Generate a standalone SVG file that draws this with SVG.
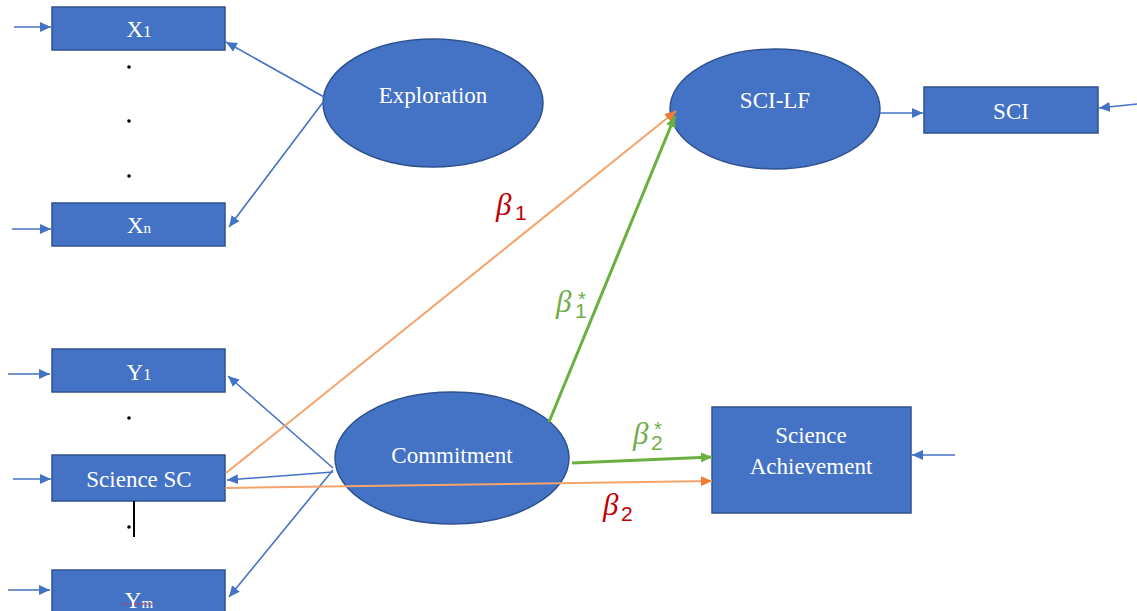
<svg xmlns="http://www.w3.org/2000/svg" width="1137" height="611" viewBox="0 0 1137 611">
<defs>
<style>
.box{fill:#4472C4;stroke:#2F528F;stroke-width:1.5}
.lbl{fill:#fff;font-family:"Liberation Serif","Times New Roman",serif;font-size:23px;text-anchor:middle}
.blue{stroke:#4472C4;stroke-width:1.6;fill:none;marker-end:url(#ab)}
.orange{stroke:#F4A46A;stroke-width:2;fill:none;marker-end:url(#ao)}
.green{stroke:#6AB040;stroke-width:3;fill:none;marker-end:url(#ag)}
.beta{font-family:"Liberation Serif","DejaVu Serif",serif;font-style:italic;font-size:31px}
.sub{font-family:"Liberation Sans","DejaVu Sans",sans-serif;font-size:21px}
.star{font-family:"Liberation Sans","DejaVu Sans",sans-serif;font-size:20px}
.red{fill:#C00000}
.grn{fill:#70AD47}
.dot{fill:#000}
</style>
<marker id="ab" markerUnits="userSpaceOnUse" markerWidth="12" markerHeight="10" refX="11" refY="5" orient="auto"><path d="M0,0 L11,5 L0,10 z" fill="#4472C4"/></marker>
<marker id="ao" markerUnits="userSpaceOnUse" markerWidth="12" markerHeight="10" refX="11" refY="5" orient="auto"><path d="M0,0 L11,5 L0,10 z" fill="#ED7D31"/></marker>
<marker id="ag" markerUnits="userSpaceOnUse" markerWidth="12" markerHeight="10" refX="11" refY="5" orient="auto"><path d="M0,0 L11,5 L0,10 z" fill="#6AB040"/></marker>
</defs>
<rect width="1137" height="611" fill="#fff"/>

<g id="X1"><rect class="box" x="52" y="7" width="173" height="43"/><text class="lbl" x="139" y="37">X<tspan font-size="17">1</tspan></text></g>
<g id="Xn"><rect class="box" x="52" y="203" width="173" height="43"/><text class="lbl" x="139" y="233">X<tspan font-size="15">n</tspan></text></g>
<g id="Y1"><rect class="box" x="52" y="349" width="173" height="43"/><text class="lbl" x="139" y="380">Y<tspan font-size="17">1</tspan></text></g>
<g id="ScienceSC"><rect class="box" x="52" y="455" width="173" height="46"/><text class="lbl" x="139" y="487">Science SC</text></g>
<g id="Ym"><rect class="box" x="52" y="570" width="173" height="45"/><text class="lbl" x="139" y="608">Y<tspan font-size="15">m</tspan></text><line x1="122" y1="604" x2="154" y2="604" stroke="#E03030" stroke-width="1.2" stroke-dasharray="2,2"/></g>

<g id="dots">
<circle class="dot" cx="129" cy="67" r="1.8"/>
<circle class="dot" cx="129" cy="121" r="1.8"/>
<circle class="dot" cx="129" cy="176" r="1.8"/>
<circle class="dot" cx="129" cy="418" r="1.8"/>
<circle class="dot" cx="129" cy="527" r="1.8"/>
<line x1="134" y1="501" x2="134" y2="537" stroke="#000" stroke-width="2"/>
</g>

<g id="Exploration"><ellipse class="box" cx="433" cy="103" rx="110" ry="64"/><text class="lbl" x="433" y="103">Exploration</text></g>
<g id="SCI-LF"><ellipse class="box" cx="775" cy="109" rx="105" ry="60"/><text class="lbl" x="775" y="108">SCI-LF</text></g>
<g id="SCI"><rect class="box" x="924" y="87" width="174" height="46"/><text class="lbl" x="1011" y="119">SCI</text></g>
<g id="Commitment"><ellipse class="box" cx="452" cy="458" rx="117" ry="66"/><text class="lbl" x="452" y="463">Commitment</text></g>
<g id="ScienceAchievement"><rect class="box" x="712" y="407" width="199" height="106"/><text class="lbl" x="811" y="443">Science</text><text class="lbl" x="811" y="474">Achievement</text></g>

<g id="connectors">
<line class="blue" x1="14" y1="27" x2="51" y2="27"/>
<line class="blue" x1="12" y1="229" x2="51" y2="229"/>
<line class="blue" x1="8" y1="374" x2="50" y2="374"/>
<line class="blue" x1="13" y1="479" x2="51" y2="479"/>
<line class="blue" x1="8" y1="590" x2="50" y2="590"/>
<line class="blue" x1="324" y1="97" x2="226" y2="42"/>
<line class="blue" x1="324" y1="101" x2="229" y2="227"/>
<line class="blue" x1="880" y1="113" x2="923" y2="113"/>
<line class="blue" x1="1137" y1="104" x2="1099" y2="108"/>
<line class="blue" x1="955" y1="455" x2="912" y2="455"/>
<line class="blue" x1="333" y1="468" x2="228" y2="376"/>
<line class="blue" x1="333" y1="472" x2="227" y2="480"/>
<line class="blue" x1="333" y1="470" x2="229" y2="597"/>
<line class="orange" x1="226" y1="473" x2="676" y2="111"/>
<line class="orange" x1="225" y1="488" x2="712" y2="481"/>
<line class="green" x1="549" y1="422" x2="675" y2="116"/>
<line class="green" x1="572" y1="463" x2="712" y2="457"/>
</g>

<g id="labels">
<text class="beta red" x="496" y="215">β</text><text class="sub red" x="515" y="220">1</text>
<text class="beta grn" x="556" y="312">β</text><text class="sub grn" x="575" y="318">1</text><text class="star grn" x="578" y="306">*</text>
<text class="beta grn" x="633" y="444">β</text><text class="sub grn" x="651" y="450">2</text><text class="star grn" x="654" y="436">*</text>
<text class="beta red" x="603" y="515">β</text><text class="sub red" x="621" y="521">2</text>
</g>
</svg>
